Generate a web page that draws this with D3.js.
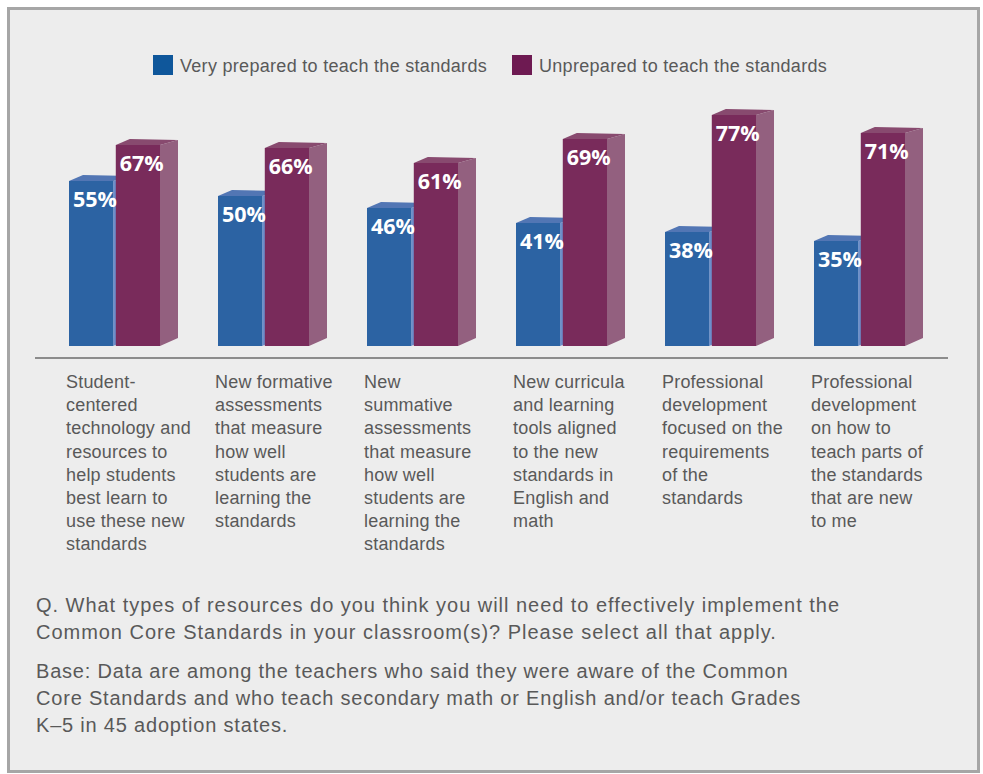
<!DOCTYPE html>
<html>
<head>
<meta charset="utf-8">
<script src="https://cdn.jsdelivr.net/npm/d3@7"></script>
<style>
  html, body { margin: 0; padding: 0; background: #ffffff; }
  svg { display: block; }
  .sans { font-family: "Liberation Sans", Arial, sans-serif; }
  .value { font-family: "Open Sans", sans-serif; font-weight: 700; }
</style>
</head>
<body>
<script>
// Resource categories (each label is pre-broken into its printed lines)
const categories = [
  ["Student-", "centered", "technology and", "resources to", "help students", "best learn to", "use these new", "standards"],
  ["New formative", "assessments", "that measure", "how well", "students are", "learning the", "standards"],
  ["New", "summative", "assessments", "that measure", "how well", "students are", "learning the", "standards"],
  ["New curricula", "and learning", "tools aligned", "to the new", "standards in", "English and", "math"],
  ["Professional", "development", "focused on the", "requirements", "of the", "standards"],
  ["Professional", "development", "on how to", "teach parts of", "the standards", "that are new", "to me"]
];
const seriesNames = ["Very prepared to teach the standards", "Unprepared to teach the standards"];
const veryPrepared = [55, 50, 46, 41, 38, 35];
const unprepared   = [67, 66, 61, 69, 77, 71];
const questionLines = [
  "Q. What types of resources do you think you will need to effectively implement the",
  "Common Core Standards in your classroom(s)? Please select all that apply."
];
const baseLines = [
  "Base: Data are among the teachers who said they were aware of the Common",
  "Core Standards and who teach secondary math or English and/or teach Grades",
  "K\u20135 in 45 adoption states."
];

const W = 983, H = 774;
const palette = [
  { front: "#2c63a3", side: "#6c8ecb", top: "#5276b4", key: "#0f579b" },
  { front: "#792b5b", side: "#93607f", top: "#884a6f", key: "#6e1a52" }
];
const textColor = "#595959";

const svg = d3.select("body").append("svg").attr("width", W).attr("height", H);

// panel
svg.append("rect").attr("x", 0).attr("y", 0).attr("width", W).attr("height", H).attr("fill", "#ffffff");
svg.append("rect")
  .attr("x", 8.5).attr("y", 8.5).attr("width", 970).attr("height", 763)
  .attr("fill", "#ededed").attr("stroke", "#a6a6a6").attr("stroke-width", 3);

// scales
const x = d3.scaleBand().domain(d3.range(categories.length)).range([69, 69 + 149 * 6]).padding(0);
const sub = d3.scaleBand().domain([0, 1]).range([0, 91]).paddingInner(5 / 91).paddingOuter(0);
const y = d3.scaleLinear().domain([0, 100]).range([346, 46]);

const bw = sub.bandwidth();
const depthX = 18, depthTop = -5, depthBase = -8, backLeftX = 14, backLeftY = -6;

// legend
const legend = svg.append("g").attr("class", "sans");
const legendX = [153, 512];
seriesNames.forEach((name, i) => {
  legend.append("rect").attr("x", legendX[i]).attr("y", 55).attr("width", 20).attr("height", 20)
    .attr("fill", palette[i].key);
  legend.append("text").attr("x", legendX[i] + 27).attr("y", 72)
    .attr("font-size", 18).attr("letter-spacing", 0.3).attr("fill", textColor).text(name);
});

// bars
const seriesData = [veryPrepared, unprepared];
const rows = [];
categories.forEach((c, ci) => {
  seriesData.forEach((vals, si) => rows.push({ ci, si, v: vals[ci] }));
});

const bars = svg.append("g").selectAll("g").data(rows).join("g");

// blue first then purple so the purple front overlaps the blue side face
bars.each(function (d) {
  const g = d3.select(this);
  const x0 = x(d.ci) + sub(d.si);
  const x1 = x0 + bw;
  const yt = y(d.v), yb = y(0);
  const col = palette[d.si];
  // side face
  g.append("path")
    .attr("d", `M${x1},${yt} L${x1 + depthX},${yt + depthTop} L${x1 + depthX},${yb + depthBase} L${x1},${yb} Z`)
    .attr("fill", col.side);
  // top face
  g.append("path")
    .attr("d", `M${x0},${yt} L${x0 + backLeftX},${yt + backLeftY} L${x1 + depthX},${yt + depthTop} L${x1},${yt} Z`)
    .attr("fill", col.top);
  // front face
  g.append("rect").attr("x", x0).attr("y", yt).attr("width", bw).attr("height", yb - yt)
    .attr("fill", col.front);
});

// value labels on top of all bars
svg.append("g").selectAll("text").data(rows).join("text")
  .attr("class", "value")
  .attr("x", d => x(d.ci) + sub(d.si) + 4)
  .attr("y", d => y(d.v) + 26)
  .attr("font-size", 21.5)
  .attr("fill", "#ffffff")
  .text(d => d.v + "%");

// baseline rule
svg.append("line").attr("x1", 35).attr("x2", 948).attr("y1", 358).attr("y2", 358)
  .attr("stroke", "#8c8c8c").attr("stroke-width", 2);

// category labels
const labels = svg.append("g").attr("class", "sans").selectAll("text").data(categories).join("text")
  .attr("x", (d, i) => x(i) - 3)
  .attr("y", 388)
  .attr("font-size", 18)
  .attr("letter-spacing", 0.2)
  .attr("fill", textColor);
labels.selectAll("tspan").data(d => d).join("tspan")
  .attr("x", function () { return d3.select(this.parentNode).attr("x"); })
  .attr("dy", (d, i) => i === 0 ? 0 : 23.2)
  .text(d => d);

// question and base notes
const notes = svg.append("g").attr("class", "sans").attr("font-size", 20).attr("fill", textColor);
notes.selectAll("text.q").data(questionLines).join("text").attr("class", "q")
  .attr("x", 36).attr("y", (d, i) => 612 + i * 27).attr("letter-spacing", 0.97).text(d => d);
notes.selectAll("text.b").data(baseLines).join("text").attr("class", "b")
  .attr("x", 36).attr("y", (d, i) => 678 + i * 27).attr("letter-spacing", 0.8).text(d => d);
</script>
</body>
</html>
